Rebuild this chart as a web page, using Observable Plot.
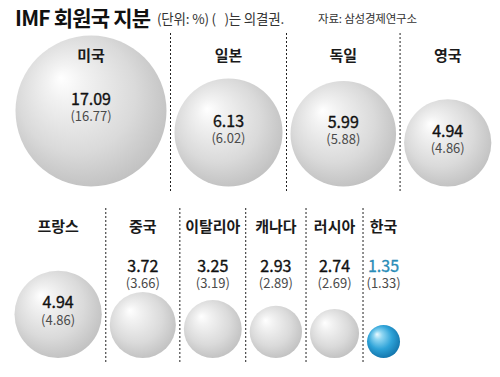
<!DOCTYPE html>
<html><head><meta charset="utf-8">
<style>
  body { margin:0; background:#fff; font-family:"Noto Sans CJK KR","Noto Sans",sans-serif; }
  #wrap { width:500px; height:377px; position:relative; overflow:hidden; }
  #head { position:relative; height:32px; }
  #head span { position:absolute; white-space:pre; }
  #title { left:15px; top:2px; font-size:21px; font-weight:700; color:#111; letter-spacing:-0.8px; }
  #unit { left:157px; top:8px; font-size:13.5px; color:#333; letter-spacing:-0.2px; }
  #src { left:318px; top:10px; font-size:11.5px; color:#333; letter-spacing:-0.2px; }
</style>
<script src="https://cdn.jsdelivr.net/npm/d3@7"></script>
<script src="https://cdn.jsdelivr.net/npm/@observablehq/plot@0.6"></script>
</head><body>
<div id="wrap">
  <div id="head">
    <span id="title">IMF 회원국 지분</span>
    <span id="unit">(단위: %) (   )는 의결권.</span>
    <span id="src">자료: 삼성경제연구소</span>
  </div>
  <div id="chart"></div>
</div>
<script>
// ---- data ----
const topCountries = ["미국", "일본", "독일", "영국"];
const topShares = [17.09, 6.13, 5.99, 4.94];
const topVotes = [16.77, 6.02, 5.88, 4.86];
const bottomCountries = ["프랑스", "중국", "이탈리아", "캐나다", "러시아", "한국"];
const bottomShares = [4.94, 3.72, 3.25, 2.93, 2.74, 1.35];
const bottomVotes = [4.86, 3.66, 3.19, 2.89, 2.69, 1.33];
const highlight = "한국";

// ---- radius scale (piecewise, shared with layout) ----
const rOpts = {type: "linear", domain: [1.35, 2.74, 6.13, 17.09], range: [16.5, 24.5, 54, 75.5]};
const rpx = d3.scaleLinear(rOpts.domain, rOpts.range);

// ---- layout: bubbles packed left to right, sitting on a row baseline ----
const rows = {
  top:    {x0: 15, base: 154, label: 24, sep: [1, 160], small: [null, null]},
  bottom: {x0: 14, base: 325.5, label: 195, sep: [176, 331], small: [234, 251]}
};
const gap = 8;
const bubbles = [], seps = [];
function layout(names, shares, votes, rowKey) {
  const row = rows[rowKey];
  let x = row.x0;
  names.forEach((n, i) => {
    const r = rpx(shares[i]);
    const inside = r > 40;
    const cy = row.base - r;
    bubbles.push({
      country: n, share: shares[i], vote: votes[i], row: rowKey,
      cx: x + r, cy, r,
      labelY: row.label,
      numY: inside ? cy - 11 : row.small[0],
      parY: inside ? cy + 6 : row.small[1]
    });
    x += 2 * r;
    if (i < names.length - 1) seps.push({x: x + gap / 2, y1: row.sep[0], y2: row.sep[1]});
    x += gap;
  });
}
layout(topCountries, topShares, topVotes, "top");
layout(bottomCountries, bottomShares, bottomVotes, "bottom");

const defs = () => {
  const d = d3.create("svg:defs");
  const g1 = d.append("radialGradient").attr("id", "gGray")
    .attr("cx", "46%").attr("cy", "44%").attr("r", "60%").attr("fx", "30%").attr("fy", "28%");
  [["0%", "#ffffff"], ["20%", "#f2f2f2"], ["65%", "#dadada"], ["100%", "#bfbfbf"]]
    .forEach(([o, c]) => g1.append("stop").attr("offset", o).attr("stop-color", c));
  const g2 = d.append("radialGradient").attr("id", "gBlue")
    .attr("cx", "46%").attr("cy", "44%").attr("r", "60%").attr("fx", "30%").attr("fy", "28%");
  [["0%", "#eafaff"], ["22%", "#8fd6f2"], ["60%", "#2ea3d8"], ["100%", "#1171a8"]]
    .forEach(([o, c]) => g2.append("stop").attr("offset", o).attr("stop-color", c));
  return d.node();
};

const font = "Noto Sans CJK KR, Noto Sans, sans-serif";
const plot = Plot.plot({
  width: 500,
  height: 345,
  margin: 0,
  x: {type: "identity"},
  y: {type: "identity"},
  r: rOpts,
  marks: [
    defs,
    Plot.ruleX(seps, {x: "x", y1: "y1", y2: "y2", stroke: "#222", strokeWidth: 1, strokeDasharray: "2,2"}),
    Plot.dot(bubbles, {
      x: "cx", y: "cy", r: "share",
      fill: d => d.country === highlight ? "url(#gBlue)" : "url(#gGray)",
      stroke: "none"
    }),
    Plot.text(bubbles, {x: "cx", y: "labelY", text: "country", fontSize: 15, fontWeight: "bold",
      fill: "#1a1a1a", fontFamily: font, letterSpacing: "-0.5px"}),
    Plot.text(bubbles, {x: "cx", y: "numY", text: d => d.share.toFixed(2), fontSize: 16, fontWeight: 400,
      fill: d => d.country === highlight ? "#2a8db8" : "#111", fontFamily: font, letterSpacing: "-0.6px",
      stroke: d => d.country === highlight ? "#2a8db8" : "#111", strokeWidth: 0.35}),
    Plot.text(bubbles, {x: "cx", y: "parY", text: d => `(${d.vote.toFixed(2)})`, fontSize: 13, fontWeight: 400,
      fill: "#4a4a4a", fontFamily: font, letterSpacing: "-0.4px"})
  ]
});
document.getElementById("chart").appendChild(plot);
</script>
</body></html>
